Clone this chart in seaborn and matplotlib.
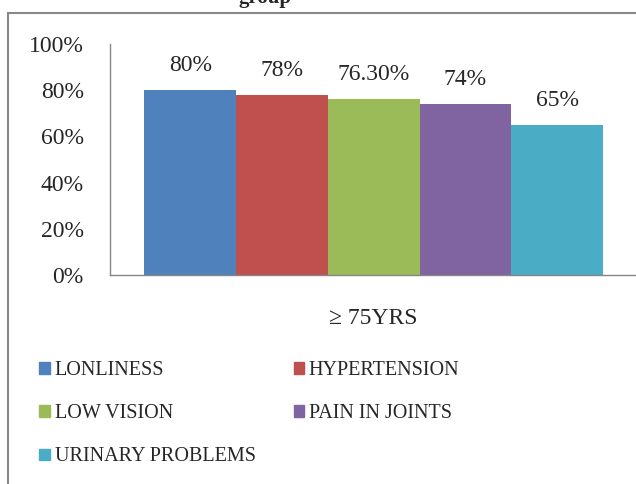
import matplotlib
matplotlib.use("Agg")
import matplotlib.pyplot as plt
import matplotlib.patches as mpatches
import seaborn as sns
import pandas as pd

# data
group = "\u2265 75YRS"
problems = ["LONLINESS", "HYPERTENSION", "LOW VISION", "PAIN IN JOINTS", "URINARY PROBLEMS"]
percent = [80, 78, 76.3, 74, 65]
labels = ["80%", "78%", "76.30%", "74%", "65%"]
colors = ["#4F81BD", "#C0504D", "#9BBB59", "#8064A2", "#4BACC6"]

df = pd.DataFrame({"group": [group] * len(problems), "problem": problems, "percent": percent})

sns.set_style("white")
plt.rcParams["font.family"] = ["Liberation Serif", "DejaVu Serif"]

fig = plt.figure(figsize=(6.36, 4.84), dpi=100)
ax = fig.add_axes([0.173, 0.432, 0.829, 0.477])

sns.barplot(data=df, x="group", y="percent", hue="problem", palette=colors,
            width=0.87, saturation=1, linewidth=0, ax=ax, legend=False)

ax.set_ylim(0, 100)
ax.set_yticks([0, 20, 40, 60, 80, 100])
ax.set_yticklabels([f"{t}%" for t in [0, 20, 40, 60, 80, 100]], fontsize=17)
ax.tick_params(axis="y", length=0, pad=19)
ax.tick_params(axis="x", length=0, pad=24, labelsize=17)
ax.set_xlabel("")
ax.set_ylabel("")
for s in ["top", "right"]:
    ax.spines[s].set_visible(False)
for s in ["left", "bottom"]:
    ax.spines[s].set_color("#868686")
    ax.spines[s].set_linewidth(1)

for cont, lab in zip(ax.containers, labels):
    ax.bar_label(cont, labels=[lab], padding=10, fontsize=17)

# legend, filled row by row
handles = [mpatches.Patch(color=c, label=p) for c, p in zip(colors, problems)]
order = [0, 2, 4, 1, 3]
fig.legend([handles[i] for i in order], [problems[i] for i in order],
           ncol=2, loc="upper left", bbox_to_anchor=(0.062, 0.254),
           frameon=False, fontsize=14.5, handlelength=0.5, handleheight=0.5,
           handletextpad=0.25, columnspacing=1.9, labelspacing=1.2,
           borderpad=0, borderaxespad=0)

# outer chart border
fig.patches.append(mpatches.Rectangle((8 / 636, -0.05), 1.0, 1 - 13 / 484 + 0.05,
                                      transform=fig.transFigure, fill=False,
                                      edgecolor="#888888", linewidth=1.5))

fig.text(265 / 636, 1 - 3 / 484, "group", ha="center", va="baseline",
         fontsize=15, fontweight="bold")

fig.savefig("out.png", dpi=100)
